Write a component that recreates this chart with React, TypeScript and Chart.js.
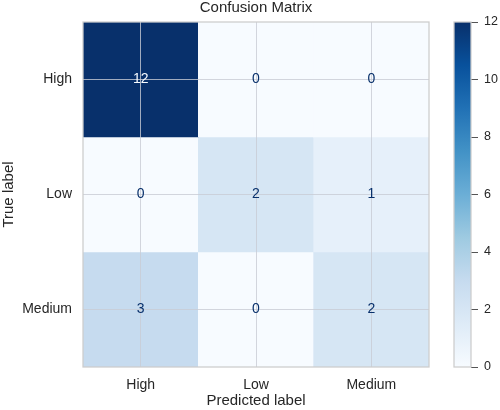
import React, { useEffect, useRef } from "react";
import { Chart, registerables } from "chart.js";

Chart.register(...registerables);

const predictedLabels = ["High", "Low", "Medium"];
const trueLabels = ["High", "Low", "Medium"];
const rowHigh = [12, 0, 0];
const rowLow = [0, 2, 1];
const rowMedium = [3, 0, 2];
const matrixRows = [rowHigh, rowLow, rowMedium];
const colorbarTicks = [0, 2, 4, 6, 8, 10, 12];
const vmin = 0;
const vmax = 12;

const FONT = "'Liberation Sans', Arial, Helvetica, sans-serif";
const TEXT = "#262626";

const bluesStops: [number, number, number][] = [
  [247, 251, 255],
  [222, 235, 247],
  [198, 219, 239],
  [158, 202, 225],
  [107, 174, 214],
  [66, 146, 198],
  [33, 113, 181],
  [8, 81, 156],
  [8, 48, 107],
];

function blues(t: number): string {
  const x = Math.max(0, Math.min(1, t)) * (bluesStops.length - 1);
  const i = Math.min(bluesStops.length - 2, Math.floor(x));
  const f = x - i;
  const a = bluesStops[i];
  const b = bluesStops[i + 1];
  const c = a.map((v, k) => Math.round(v + (b[k] - v) * f));
  return `rgb(${c[0]},${c[1]},${c[2]})`;
}

const cellTextPlugin = {
  id: "cellText",
  afterDraw(chart: any) {
    const { ctx, chartArea, scales } = chart;
    ctx.save();
    ctx.font = `14px ${FONT}`;
    ctx.textAlign = "center";
    ctx.textBaseline = "middle";
    const thresh = (vmax + vmin) / 2;
    matrixRows.forEach((row, r) => {
      row.forEach((v, c) => {
        const x = scales.x.getPixelForValue(c);
        const y = scales.y.getPixelForValue(r);
        ctx.fillStyle = v >= thresh ? "#f7fbff" : "#08306b";
        ctx.fillText(String(v), x, y);
      });
    });
    ctx.strokeStyle = "#cccccc";
    ctx.lineWidth = 1.25;
    ctx.strokeRect(
      chartArea.left,
      chartArea.top,
      chartArea.right - chartArea.left,
      chartArea.bottom - chartArea.top
    );
    ctx.restore();
  },
};

const cbFramePlugin = {
  id: "cbFrame",
  afterDraw(chart: any) {
    const { ctx, chartArea } = chart;
    ctx.save();
    ctx.strokeStyle = "#cccccc";
    ctx.lineWidth = 1.25;
    ctx.strokeRect(
      chartArea.left,
      chartArea.top,
      chartArea.right - chartArea.left,
      chartArea.bottom - chartArea.top
    );
    ctx.restore();
  },
};

export default function App() {
  const mainRef = useRef<HTMLCanvasElement>(null);
  const cbRef = useRef<HTMLCanvasElement>(null);

  useEffect(() => {
    const datasets = matrixRows.map((row, r) => ({
      label: trueLabels[r],
      data: row.map(() => [r - 0.5, r + 0.5]),
      backgroundColor: row.map((v) => blues((v - vmin) / (vmax - vmin))),
      borderColor: row.map((v) => blues((v - vmin) / (vmax - vmin))),
      borderWidth: 0,
      barPercentage: 1,
      categoryPercentage: 1,
      grouped: false,
    }));

    const gridColor = "rgba(200,204,212,0.8)";

    const main = new Chart(mainRef.current as HTMLCanvasElement, {
      type: "bar",
      data: { labels: predictedLabels, datasets: datasets as any },
      plugins: [cellTextPlugin],
      options: {
        animation: false,
        responsive: false,
        devicePixelRatio: 1,
        layout: { padding: { left: 0, right: 71, top: 0, bottom: 0 } },
        plugins: {
          legend: { display: false },
          tooltip: { enabled: false },
          title: {
            display: true,
            text: "Confusion Matrix",
            fullSize: false,
            color: TEXT,
            font: { family: FONT, size: 15, weight: "normal", lineHeight: 1.0 },
            padding: { top: 0, bottom: 7 },
          },
        },
        scales: {
          x: {
            type: "category",
            offset: true,
            z: 1,
            grid: {
              offset: false,
              drawTicks: false,
              color: gridColor,
              lineWidth: 1,
              z: 1,
            },
            border: { display: false },
            ticks: {
              color: TEXT,
              font: { family: FONT, size: 14 },
              padding: 10,
              maxRotation: 0,
            },
            title: {
              display: true,
              text: "Predicted label",
              color: TEXT,
              font: { family: FONT, size: 15 },
              padding: { top: 0, bottom: 0 },
            },
            afterFit(scale: any) {
              scale.height = 43;
            },
          } as any,
          y: {
            type: "linear",
            min: -0.5,
            max: 2.5,
            reverse: true,
            z: 1,
            grid: {
              drawTicks: false,
              color: gridColor,
              lineWidth: 1,
              z: 1,
            },
            border: { display: false },
            ticks: {
              color: TEXT,
              font: { family: FONT, size: 14 },
              padding: 11,
              callback: (v: any) => trueLabels[v as number] ?? "",
            },
            afterBuildTicks(scale: any) {
              scale.ticks = trueLabels.map((_, i) => ({ value: i }));
            },
            title: {
              display: true,
              text: "True label",
              color: TEXT,
              font: { family: FONT, size: 15 },
              padding: { top: 0, bottom: 0 },
            },
            afterFit(scale: any) {
              scale.width = 83;
            },
          } as any,
        },
      },
    });

    const cb = new Chart(cbRef.current as HTMLCanvasElement, {
      type: "bar",
      data: {
        labels: [""],
        datasets: [
          {
            data: [[vmin, vmax]] as any,
            backgroundColor: (context: any) => {
              const chart = context.chart;
              const area = chart.chartArea;
              if (!area) return blues(0.5);
              const g = chart.ctx.createLinearGradient(0, area.bottom, 0, area.top);
              bluesStops.forEach((_, i) => {
                const t = i / (bluesStops.length - 1);
                g.addColorStop(t, blues(t));
              });
              return g;
            },
            borderWidth: 0,
            barPercentage: 1,
            categoryPercentage: 1,
          },
        ],
      },
      plugins: [cbFramePlugin],
      options: {
        animation: false,
        responsive: false,
        devicePixelRatio: 1,
        layout: { padding: { left: 14, right: 0, top: 22, bottom: 43 } },
        plugins: { legend: { display: false }, tooltip: { enabled: false } },
        scales: {
          x: { display: false, offset: true },
          y: {
            type: "linear",
            position: "right",
            min: vmin,
            max: vmax,
            grid: {
              drawOnChartArea: false,
              drawTicks: true,
              tickLength: 7,
              color: "#555555",
              lineWidth: 1,
            },
            border: { display: false },
            ticks: {
              color: TEXT,
              font: { family: FONT, size: 12.5 },
              padding: 6,
            },
            afterBuildTicks(scale: any) {
              scale.ticks = colorbarTicks.map((v) => ({ value: v }));
            },
            afterFit(scale: any) {
              scale.width = 29;
            },
          } as any,
        },
      },
    });

    return () => {
      main.destroy();
      cb.destroy();
    };
  }, []);

  return (
    <div
      style={{
        position: "fixed",
        left: 0,
        top: 0,
        width: 500,
        height: 410,
        background: "#ffffff",
      }}
    >
      <canvas
        ref={mainRef}
        width={500}
        height={410}
        style={{ position: "absolute", left: 0, top: 0, width: 500, height: 410 }}
      />
      <canvas
        ref={cbRef}
        width={60}
        height={410}
        style={{ position: "absolute", left: 440, top: 0, width: 60, height: 410 }}
      />
    </div>
  );
}
